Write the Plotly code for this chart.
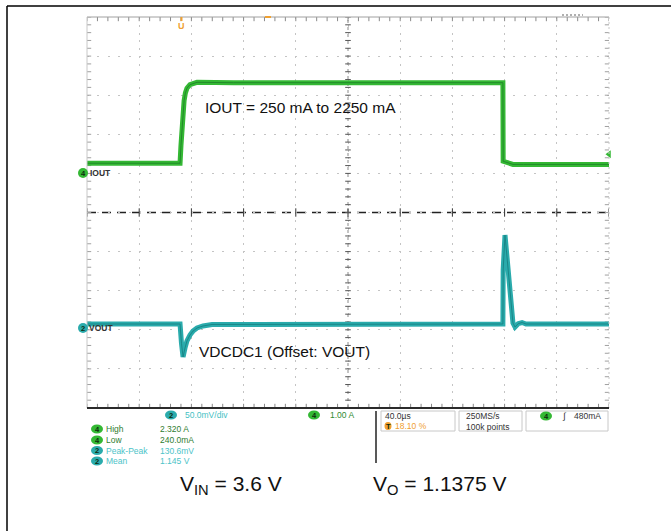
import numpy as np
import plotly.graph_objects as go

W, H = 671, 531
GX0, GX1, GY0, GY1 = 87, 609, 17, 408          # graticule box (pixels)

# ---------------- scope settings ----------------
TIME_PER_DIV = 40.0        # µs/div
TRIG_POS = 0.181           # trigger position, fraction of record
N_HDIV, N_VDIV = 10, 10
IOUT_PER_DIV = 1.0         # A/div
IOUT_ZERO_DIV = 1.01       # IOUT ground marker, divisions above centre
VOUT_PER_DIV = 0.05        # V/div
VOUT_OFFSET = 1.1375       # V
VOUT_OFFSET_DIV = -2.954   # VOUT offset marker, divisions from centre
TRIG_LEVEL = 0.48          # A

# ---------------- waveforms ----------------
iout_t = [-72.4, -1.1, -0.4, 0.4, 1.2, 2.0, 3.0, 4.2, 6.5, 8.8, 11.9, 40.0, 120.0,
          200.0, 246.3, 246.5, 247.5, 250.0, 254.0, 262.0, 327.6]
iout_a = [0.25, 0.25, 0.70, 1.15, 1.55, 1.85, 2.05, 2.17, 2.26, 2.29, 2.32, 2.31, 2.31,
          2.31, 2.31, 0.30, 0.29, 0.26, 0.22, 0.22, 0.22]

vout_t = [-72.4, -1.1, 0.0, 1.2, 2.7, 4.2, 6.5, 8.8, 11.9, 16.5, 23.4, 246.3, 246.5,
          247.9, 249.5, 251.0, 252.5, 254.0, 255.6, 258.0, 261.0, 264.0, 327.6]
vout_v = [1.1426, 1.1426, 1.1180, 1.1004, 1.1120, 1.1210, 1.1285, 1.1335, 1.1375, 1.1401,
          1.1420, 1.1426, 1.2117, 1.2564, 1.2270, 1.1989, 1.1707, 1.1439, 1.1388, 1.1430,
          1.1445, 1.1426, 1.1426]

# ---------------- status readouts ----------------
meas_ch = ["4", "4", "2", "2"]
meas_names = ["High", "Low", "Peak-Peak", "Mean"]
meas_vals = ["2.320 A", "240.0mA", "130.6mV", "1.145 V"]
ch2_scale = "50.0mV/div"
ch4_scale = "1.00 A"
horiz_scale = "40.0µs"
trig_pos_txt = "18.10 %"
rate_txt = ["250MS/s", "100k points"]
trig_txt = "480mA"

caption_iout = "IOUT = 250 mA to 2250 mA"
caption_vout = "VDCDC1 (Offset: VOUT)"
caption_vin = "V<sub>IN</sub> = 3.6 V"
caption_vo = "V<sub>O</sub> = 1.1375 V"

GREEN, GREEN_D = "#34b834", "#22892a"
CYAN, CYAN_D = "#2aabac", "#1a8687"
ORANGE = "#f0a030"
FONT = "Arial, Liberation Sans, sans-serif"

T0 = -TRIG_POS * N_HDIV * TIME_PER_DIV
T1 = T0 + N_HDIV * TIME_PER_DIV
TC = (T0 + T1) / 2
iout_range = [(-5 - IOUT_ZERO_DIV) * IOUT_PER_DIV, (5 - IOUT_ZERO_DIV) * IOUT_PER_DIV]
vout_range = [VOUT_OFFSET + (-5 - VOUT_OFFSET_DIV) * VOUT_PER_DIV,
              VOUT_OFFSET + (5 - VOUT_OFFSET_DIV) * VOUT_PER_DIV]

fig = go.Figure()


def px(x):
    return x / W


def py(y):
    return 1 - y / H


# graticule minor ticks
minor_x = T0 + np.arange(0, N_HDIV * 5 + 1) * TIME_PER_DIV / 5
minor_y = -5 + np.arange(0, N_VDIV * 5 + 1) * 0.2
major_x = T0 + np.arange(0, N_HDIV + 1) * TIME_PER_DIV


def tickmarks(x, y, sym, size, color):
    fig.add_trace(go.Scatter(x=x, y=y, mode="markers", hoverinfo="skip", showlegend=False,
                             marker=dict(symbol=sym, size=size, color=color,
                                         line=dict(width=1, color=color))))


tickmarks(major_x, np.zeros_like(major_x), "line-ns", 6, "#333333")
tickmarks(np.full_like(minor_y, TC), minor_y, "line-ew", 4, "#555555")
tickmarks(minor_x, np.full_like(minor_x, 5.0), "line-ns", 6, "#8a8a8a")
tickmarks(minor_x, np.full_like(minor_x, -5.0), "line-ns", 6, "#8a8a8a")
tickmarks(np.full_like(minor_y, T0), minor_y, "line-ew", 6, "#a0a0a0")
tickmarks(np.full_like(minor_y, T1), minor_y, "line-ew", 6, "#a0a0a0")


def band(t, v, yax, light, dark):
    fig.add_trace(go.Scatter(x=t, y=v, yaxis=yax, mode="lines", hoverinfo="skip",
                             showlegend=False, line=dict(color=light, width=5)))
    fig.add_trace(go.Scatter(x=t, y=v, yaxis=yax, mode="lines", hoverinfo="skip",
                             showlegend=False, line=dict(color=dark, width=1)))


band(iout_t, iout_a, "y2", GREEN, GREEN_D)
band(vout_t, vout_v, "y3", CYAN, CYAN_D)

# trigger level marker on right edge
fig.add_trace(go.Scatter(x=[T1], y=[TRIG_LEVEL], yaxis="y2", mode="markers", cliponaxis=False,
                         hoverinfo="skip", showlegend=False,
                         marker=dict(symbol="triangle-left", size=7, color=GREEN)))

shapes = []
# centre cross lines
shapes.append(dict(type="line", xref="x", yref="y", x0=T0, x1=T1, y0=0, y1=0, layer="below",
                   line=dict(color="#222222", width=1.4, dash="9px,6px")))
shapes.append(dict(type="line", xref="x", yref="y", x0=TC, x1=TC, y0=-5, y1=5, layer="below",
                   line=dict(color="#8a8a8a", width=1, dash="3px,4px")))
# graticule edges
shapes.append(dict(type="line", xref="paper", yref="paper", x0=px(GX0), x1=px(GX1),
                   y0=py(GY0), y1=py(GY0), line=dict(color="#a0a0a0", width=1)))
shapes.append(dict(type="line", xref="paper", yref="paper", x0=px(GX0), x1=px(GX0),
                   y0=py(GY0), y1=py(GY1), line=dict(color="#c8c8c8", width=1)))
shapes.append(dict(type="line", xref="paper", yref="paper", x0=px(GX1), x1=px(GX1),
                   y0=py(GY0), y1=py(GY1), line=dict(color="#c8c8c8", width=1, dash="2px,3px")))
shapes.append(dict(type="line", xref="paper", yref="paper", x0=px(GX0), x1=px(GX1),
                   y0=py(GY1), y1=py(GY1), line=dict(color="#2b2b2b", width=2)))
# outer frame (top & left)
shapes.append(dict(type="line", xref="paper", yref="paper", x0=px(7), x1=1, y0=py(6), y1=py(6),
                   line=dict(color="black", width=1.5)))
shapes.append(dict(type="line", xref="paper", yref="paper", x0=px(7), x1=px(7), y0=py(6), y1=0,
                   line=dict(color="black", width=1.5)))
# status bar separators
shapes.append(dict(type="line", xref="paper", yref="paper", x0=px(376), x1=px(376),
                   y0=py(411), y1=py(463), line=dict(color="#222222", width=1.5)))
for (a, b) in [(381, 455), (459, 522), (526, 608)]:
    shapes.append(dict(type="rect", xref="paper", yref="paper", x0=px(a), x1=px(b),
                       y0=py(431), y1=py(411), line=dict(color="#c8c8c8", width=1)))
# trigger markers on top
shapes.append(dict(type="line", xref="x", yref="paper", x0=0, x1=0, y0=py(GY0), y1=py(GY0 + 4),
                   line=dict(color=ORANGE, width=2)))
shapes.append(dict(type="line", xref="paper", yref="paper", x0=px(265), x1=px(271),
                   y0=py(GY0), y1=py(GY0), line=dict(color=ORANGE, width=2)))
# small readout glyph at top right of graticule
shapes.append(dict(type="line", xref="paper", yref="paper", x0=px(562), x1=px(583),
                   y0=py(15), y1=py(15), line=dict(color="#b0b0b0", width=2, dash="2px,2px")))

annotations = []


def txt(x, y, s, size=9, color="#333333", xanchor="left", family=FONT, xref="paper"):
    annotations.append(dict(x=(x if xref == "x" else px(x)), y=py(y), xref=xref, yref="paper",
                            text=s, showarrow=False, xanchor=xanchor, yanchor="middle",
                            font=dict(size=size, color=color, family=family)))


def badge(xc, yc, label, fill, w=12, h=9):
    shapes.append(dict(type="circle", xref="paper", yref="paper", x0=px(xc - w / 2),
                       x1=px(xc + w / 2), y0=py(yc + h / 2), y1=py(yc - h / 2),
                       fillcolor=fill, line=dict(width=0)))
    txt(xc, yc, "<b>" + label + "</b>", size=7.5, color="#0d2a0d", xanchor="center")


# channel labels at left
badge(83, 173, "4", GREEN, w=10, h=10)
txt(88, 173, "<b>IOUT</b>", size=8.5, color="#333333")
badge(83, 328, "2", CYAN, w=10, h=10)
txt(87, 328, "<b>VOUT</b>", size=8.5, color="#333333")

# trigger position glyph
txt(0, 26, "<b>U</b>", size=9, color=ORANGE, xanchor="center", xref="x")

# captions
txt(203, 107.5, caption_iout, size=15.5, color="#111111")
txt(197, 351, caption_vout, size=15.5, color="#111111")
txt(178, 485, caption_vin, size=21, color="#111111")
txt(371, 485, caption_vo, size=21, color="#111111")

# status bar
badge(171, 415, "2", CYAN)
txt(183, 415, ch2_scale, size=8.5, color="#46bfc4")
badge(314, 415, "4", GREEN)
txt(328, 415, ch4_scale, size=8.5, color="#2f8a2f")
txt(383, 416, horiz_scale, size=8.5, color="#333333")
badge(388, 426, "T", ORANGE, w=7, h=8)
txt(393, 426, trig_pos_txt, size=8.5, color=ORANGE)
txt(464, 416, rate_txt[0], size=8.5, color="#333333")
txt(464, 427, rate_txt[1], size=8.5, color="#333333")
badge(546, 416, "4", GREEN)
txt(560, 416, "<i>∫</i>", size=9, color="#333333")
txt(572, 416, trig_txt, size=8.5, color="#333333")

rows_y = [429, 440, 450.5, 461]
for ch, nm, val, yy in zip(meas_ch, meas_names, meas_vals, rows_y):
    fill = GREEN if ch == "4" else CYAN
    col = "#2f7d2f" if ch == "4" else "#4cc3c8"
    badge(97, yy, ch, fill)
    txt(104, yy, nm, size=8.5, color=col)
    txt(158, yy, val, size=8.5, color=col)

fig.update_layout(
    width=W, height=H, margin=dict(l=0, r=0, t=0, b=0),
    paper_bgcolor="white", plot_bgcolor="white", showlegend=False,
    xaxis=dict(domain=[px(GX0), px(GX1)], range=[T0, T1], tick0=T0, dtick=TIME_PER_DIV,
               showgrid=True, gridcolor="#c4c4c4", griddash="2px,5.8px", gridwidth=1,
               showticklabels=False, ticks="", zeroline=False, showline=False, fixedrange=True),
    yaxis=dict(domain=[py(GY1), py(GY0)], range=[-5, 5], tick0=0, dtick=1,
               showgrid=True, gridcolor="#c4c4c4", griddash="2px,8.4px", gridwidth=1,
               showticklabels=False, ticks="", zeroline=False, showline=False, fixedrange=True),
    yaxis2=dict(overlaying="y", range=iout_range, visible=False, fixedrange=True),
    yaxis3=dict(overlaying="y", range=vout_range, visible=False, fixedrange=True),
    shapes=shapes, annotations=annotations,
)

fig.write_html("out.html", config={"displayModeBar": False, "staticPlot": True},
               post_script="document.body.style.margin='0';document.body.style.overflow='hidden';")
